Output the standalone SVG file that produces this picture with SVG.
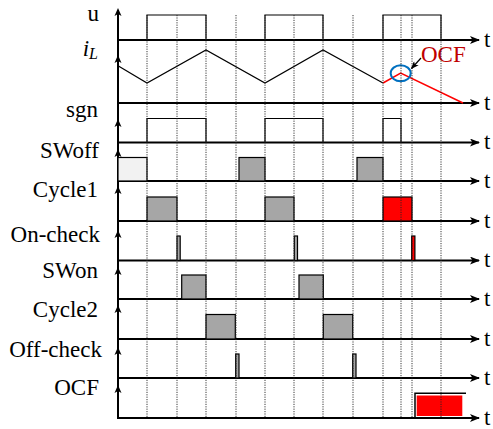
<svg xmlns="http://www.w3.org/2000/svg" width="493" height="429" viewBox="0 0 493 429">
<style>
.lbl{font-family:"Liberation Serif","Times New Roman",serif;font-size:23px;fill:#000;text-anchor:end}
.t{font-family:"Liberation Serif","Times New Roman",serif;font-size:23px;fill:#000}
.ax{stroke:#000;stroke-width:2;fill:none}
.sig{stroke:#000;stroke-width:1.2;fill:none}
.box{stroke:#000;stroke-width:1.2;fill:#a6a6a6}
.rbox{stroke:#000;stroke-width:1.2;fill:#ff0000}
.dot{stroke:#222;stroke-width:0.9;stroke-dasharray:1.2 1.2;fill:none}
</style>
<defs>
<marker id="ah" viewBox="0 0 10 8" refX="9" refY="4" markerWidth="10" markerHeight="8" markerUnits="userSpaceOnUse" orient="auto">
<path d="M0,0 L10,4 L0,8 L2.5,4 z" fill="#000"/>
</marker>
<marker id="ahs" viewBox="0 0 10 8" refX="9" refY="4" markerWidth="8" markerHeight="6.4" markerUnits="userSpaceOnUse" orient="auto">
<path d="M0,0 L10,4 L0,8 L2.5,4 z" fill="#000"/>
</marker>
<path id="up" d="M0,0 L3.5,8 L0,6 L-3.5,8 z" fill="#000"/>
</defs>

<g id="axes">
<line class="ax" x1="118" y1="10" x2="118" y2="419"/>
<use href="#up" x="118" y="8"/>
<use href="#up" x="118" y="55"/>
<use href="#up" x="118" y="119"/>
<use href="#up" x="118" y="149"/>
<use href="#up" x="118" y="186"/>
<use href="#up" x="118" y="230"/>
<use href="#up" x="118" y="267"/>
<use href="#up" x="118" y="305"/>
<use href="#up" x="118" y="347"/>
<use href="#up" x="118" y="385"/>
<line class="ax" x1="117" y1="40" x2="479" y2="40" marker-end="url(#ah)"/>
<line class="ax" x1="117" y1="103" x2="479" y2="103" marker-end="url(#ah)"/>
<line class="ax" x1="117" y1="142.5" x2="479" y2="142.5" marker-end="url(#ah)"/>
<line class="ax" x1="117" y1="181" x2="479" y2="181" marker-end="url(#ah)"/>
<line class="ax" x1="117" y1="221" x2="479" y2="221" marker-end="url(#ah)"/>
<line class="ax" x1="117" y1="260.5" x2="479" y2="260.5" marker-end="url(#ah)"/>
<line class="ax" x1="117" y1="299" x2="479" y2="299" marker-end="url(#ah)"/>
<line class="ax" x1="117" y1="339" x2="479" y2="339" marker-end="url(#ah)"/>
<line class="ax" x1="117" y1="378" x2="479" y2="378" marker-end="url(#ah)"/>
<line class="ax" x1="117" y1="418" x2="479" y2="418" marker-end="url(#ah)"/>
<text class="t" x="484" y="46.5">t</text>
<text class="t" x="484" y="109.5">t</text>
<text class="t" x="484" y="149">t</text>
<text class="t" x="484" y="187.5">t</text>
<text class="t" x="484" y="227.5">t</text>
<text class="t" x="484" y="267">t</text>
<text class="t" x="484" y="305.5">t</text>
<text class="t" x="484" y="345.5">t</text>
<text class="t" x="484" y="384.5">t</text>
<text class="t" x="484" y="424.5">t</text>
</g>

<g id="u">
<text class="lbl" x="99" y="21">u</text>
<path class="sig" d="M147,40 V15 H206 V40 M265,40 V15 H323 V40 M383,40 V15 H441 V40"/>
</g>

<g id="iL">
<text class="lbl" x="98" y="56" font-style="italic">i<tspan font-size="16" dy="3">L</tspan></text>
<polyline class="sig" stroke-width="1.5" points="118,65.7 147,83 206,50 265,83 323,50 383,83"/>
<polyline fill="none" stroke="#ff0000" stroke-width="1.5" points="383,83 400.7,73 463,103"/>
<ellipse cx="400.7" cy="73.3" rx="10" ry="8" fill="none" stroke="#0070c0" stroke-width="2"/>
<text x="421" y="62" font-family="Liberation Serif, Times New Roman, serif" font-size="23" fill="#c00000">OCF</text>
</g>

<g id="sgn">
<text class="lbl" x="98" y="117">sgn</text>
<path class="sig" d="M147,142.5 V118.5 H206 V142.5 M265,142.5 V118.5 H323 V142.5 M383,142.5 V118.5 H401 V142.5"/>
</g>

<g id="SWoff">
<text class="lbl" x="99" y="158">SWoff</text>
<rect class="box" x="118" y="157.5" width="29" height="23.5" fill="#f2f2f2" style="fill:#f2f2f2"/>
<rect class="box" x="239" y="157.5" width="26" height="23.5"/>
<rect class="box" x="357" y="157.5" width="26" height="23.5"/>
</g>

<g id="Cycle1">
<text class="lbl" x="98" y="197">Cycle1</text>
<rect class="box" x="147" y="197" width="30" height="24"/>
<rect class="box" x="265" y="197" width="29" height="24"/>
<rect class="rbox" x="383" y="197" width="29" height="24"/>
</g>

<g id="On-check">
<text class="lbl" x="100" y="241.5">On-check</text>
<rect class="box" x="177" y="236" width="3.2" height="24.5"/>
<rect class="box" x="294.3" y="236" width="3.2" height="24.5"/>
<rect class="rbox" x="411.7" y="236" width="3.2" height="24.5"/>
</g>

<g id="SWon">
<text class="lbl" x="98" y="278">SWon</text>
<rect class="box" x="181.7" y="275" width="24.3" height="24"/>
<rect class="box" x="299" y="275" width="24.3" height="24"/>
</g>

<g id="Cycle2">
<text class="lbl" x="98" y="317">Cycle2</text>
<rect class="box" x="206" y="314.5" width="29.3" height="24.5"/>
<rect class="box" x="323.3" y="314.5" width="29.4" height="24.5"/>
</g>

<g id="Off-check">
<text class="lbl" x="102" y="356.5">Off-check</text>
<rect class="box" x="235.7" y="354" width="3.3" height="24"/>
<rect class="box" x="352.7" y="354" width="3.3" height="24"/>
</g>

<g id="OCF">
<text class="lbl" x="99" y="395">OCF</text>
<rect x="416.7" y="395.5" width="45.6" height="20.5" fill="#ff0000"/>
<path d="M415,418 V393.3 H466" fill="none" stroke="#000" stroke-width="1.5"/>
</g>

<g id="grid">
<path class="dot" d="M147,15 V418 M177,15 V418 M206,15 V418 M236,15 V418 M265,15 V418 M294,15 V418 M323,15 V418 M353,15 V418 M383,15 V418 M401,15 V418 M412,15 V418 M441,15 V418"/>
</g>

<g id="connectors">
<line x1="421" y1="58" x2="411.5" y2="68.5" stroke="#000" stroke-width="1.2" marker-end="url(#ahs)"/>
</g>
</svg>
